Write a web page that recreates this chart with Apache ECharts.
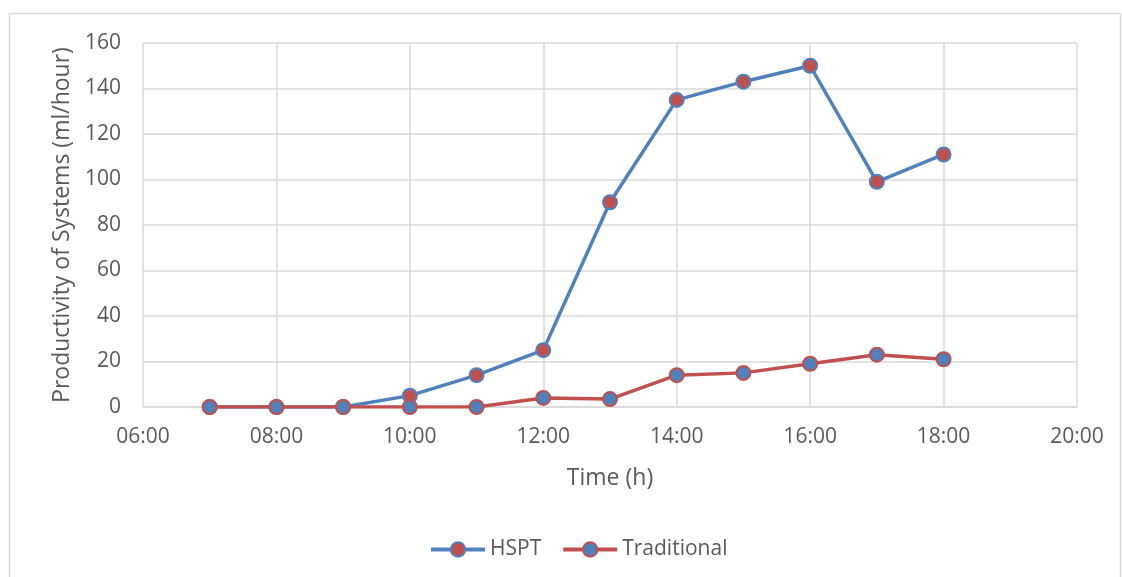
<!DOCTYPE html>
<html>
<head>
<meta charset="utf-8">
<script src="https://cdn.jsdelivr.net/npm/echarts@6/dist/echarts.min.js"></script>
<style>html,body{margin:0;padding:0;background:#fff}#c{width:1122px;height:577px}</style>
</head>
<body>
<div id="c"></div>
<script>
const hours = [7, 8, 9, 10, 11, 12, 13, 14, 15, 16, 17, 18];
const hspt = [0, 0, 0, 5, 14, 25, 90, 135, 143, 150, 99, 111];
const traditional = [0, 0, 0, 0, 0, 4, 3.5, 14, 15, 19, 23, 21];
const xTickLabels = {6: '06:00', 8: '08:00', 10: '10:00', 12: '12:00', 14: '14:00', 16: '16:00', 18: '18:00', 20: '20:00'};
const yTicks = [0, 20, 40, 60, 80, 100, 120, 140, 160];

const BLUE = '#4F81BD', RED = '#C0504D', FONT = '"Open Sans", Lato, sans-serif', TXT = '#595959';
const chart = echarts.init(document.getElementById('c'), null, {renderer: 'canvas'});
const pair = (xs, ys) => xs.map((x, i) => [x, ys[i]]);
const hsptItem = {color: RED, borderColor: BLUE, borderWidth: 2};
const tradItem = {color: BLUE, borderColor: RED, borderWidth: 2};
chart.setOption({
  animation: false,
  backgroundColor: '#fff',
  textStyle: {fontFamily: FONT},
  graphic: [{type: 'rect', shape: {x: 9.5, y: 13.5, width: 1111, height: 700}, style: {fill: 'none', stroke: '#d9d9d9', lineWidth: 1.5}, silent: true}],
  grid: {left: 143, right: 45, top: 43, bottom: 170},
  legend: {
    top: 534, left: 424, itemGap: 20, itemWidth: 54, itemHeight: 18,
    textStyle: {color: TXT, fontSize: 21, fontFamily: FONT},
    data: [
      {name: 'HSPT', itemStyle: hsptItem, lineStyle: {color: BLUE, width: 4}},
      {name: 'Traditional', itemStyle: tradItem, lineStyle: {color: RED, width: 4}}
    ]
  },
  xAxis: {
    type: 'value', min: 6, max: 20, interval: 2,
    name: 'Time (h)', nameLocation: 'middle', nameGap: 60,
    nameTextStyle: {color: TXT, fontSize: 23, fontFamily: FONT},
    axisLine: {show: true, lineStyle: {color: '#d9d9d9', width: 1.5}},
    axisTick: {show: false},
    axisLabel: {color: TXT, fontSize: 21, margin: 20, formatter: v => xTickLabels[v] || ''},
    splitLine: {show: true, lineStyle: {color: '#d9d9d9', width: 1.5}}
  },
  yAxis: {
    type: 'value', min: yTicks[0], max: yTicks[yTicks.length - 1], interval: 20,
    name: 'Productivity of Systems (ml/hour)', nameLocation: 'middle', nameGap: 68,
    nameTextStyle: {color: TXT, fontSize: 23, fontFamily: FONT},
    axisLine: {show: false}, axisTick: {show: false},
    axisLabel: {color: TXT, fontSize: 21, margin: 22},
    splitLine: {show: true, lineStyle: {color: '#d9d9d9', width: 1.5}}
  },
  series: [
    {
      name: 'HSPT', type: 'line', data: pair(hours, hspt),
      symbol: 'circle', symbolSize: 14,
      lineStyle: {color: BLUE, width: 3.5},
      itemStyle: hsptItem,
      z: 2
    },
    {
      name: 'Traditional', type: 'line', data: pair(hours, traditional),
      symbol: 'circle', symbolSize: 14,
      lineStyle: {color: RED, width: 3.5},
      itemStyle: tradItem,
      z: 3
    }
  ]
});
</script>
</body>
</html>
